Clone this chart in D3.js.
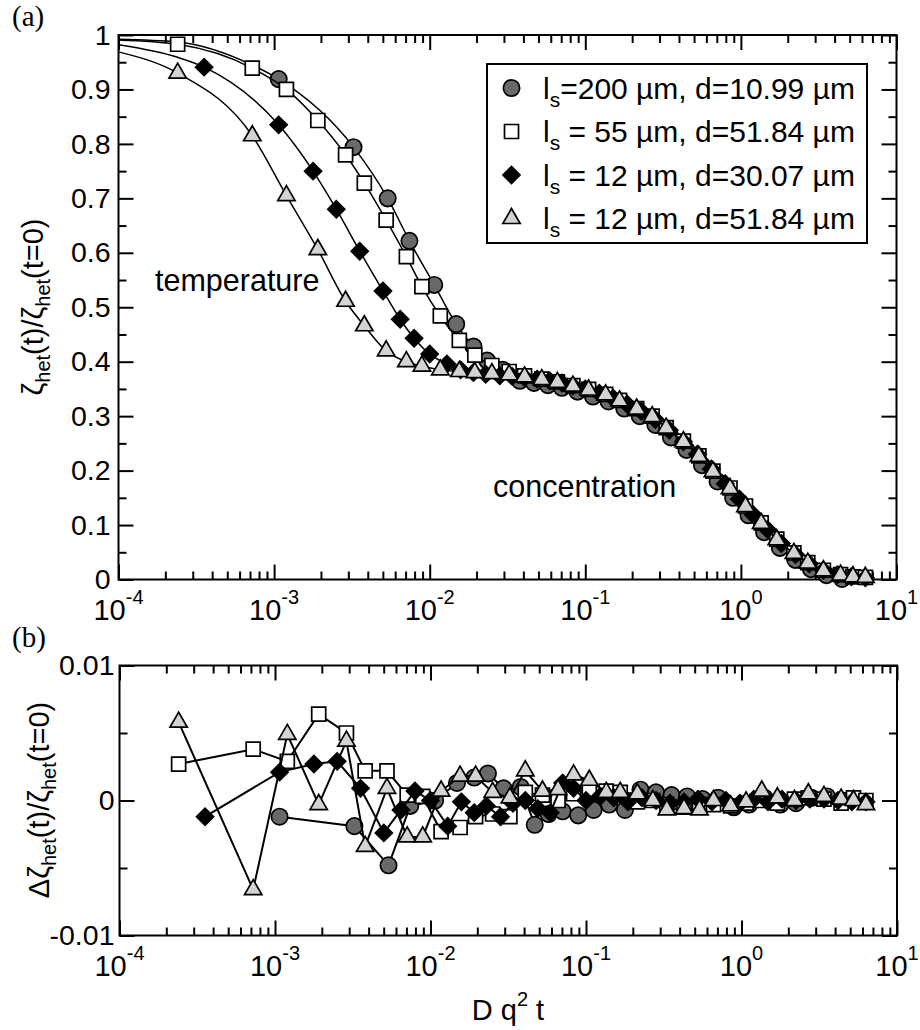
<!DOCTYPE html>
<html>
<head>
<meta charset="utf-8">
<script src="https://cdn.jsdelivr.net/npm/d3@7"></script>
<style>
  body { margin: 0; background: #fff; }
  text { white-space: pre; }
</style>
</head>
<body>
<script>
// ---- data ----

// D q^2 t for each data set (l_s=55 and l_s=12/d=51.84 share the same q)
var xD51 = [2.40e-4, 7.24e-4, 1.20e-3, 1.91e-3, 2.88e-3, 3.80e-3, 5.25e-3, 7.08e-3, 8.91e-3, 1.17e-2,
            1.55e-2, 1.95e-2, 2.51e-2, 3.24e-2, 4.07e-2, 5.25e-2, 6.61e-2, 8.32e-2, 0.105, 0.135,
            0.166, 0.214, 0.269, 0.331, 0.427, 0.537, 0.661, 0.851, 1.07, 1.35,
            1.70, 2.19, 2.69, 3.39, 4.37, 5.25, 6.31];
var xD30 = [3.55e-4, 1.07e-3, 1.78e-3, 2.51e-3, 3.55e-3, 5.01e-3, 6.46e-3, 7.94e-3, 1.00e-2, 1.29e-2,
            1.58e-2, 1.91e-2, 2.29e-2, 2.82e-2, 3.39e-2, 4.07e-2, 4.90e-2, 5.89e-2, 7.08e-2, 8.32e-2,
            0.100, 0.123, 0.151, 0.186, 0.229, 0.282, 0.347, 0.427, 0.525, 0.646,
            0.794, 0.977, 1.20, 1.48, 1.82, 2.24, 2.75, 3.39, 4.17, 5.13, 6.31];
var xD11 = [1.07e-3, 3.24e-3, 5.37e-3, 7.41e-3, 1.07e-2, 1.48e-2, 1.91e-2, 2.34e-2, 2.95e-2, 3.80e-2,
            4.68e-2, 5.75e-2, 7.08e-2, 8.91e-2, 0.112, 0.141, 0.178, 0.224, 0.282, 0.355,
            0.447, 0.562, 0.708, 0.891, 1.12, 1.41, 1.78, 2.24, 2.82, 3.55, 4.47];

// zeta_het(t)/zeta_het(t=0)
var yCircle = [0.919, 0.794, 0.700, 0.622, 0.541, 0.469, 0.428, 0.402, 0.385, 0.365,
               0.361, 0.357, 0.352, 0.345, 0.336, 0.327, 0.314, 0.300, 0.284, 0.261,
               0.238, 0.210, 0.180, 0.150, 0.118, 0.087, 0.058, 0.036, 0.019, 0.008, 0.001];
var ySquare = [0.983, 0.939, 0.900, 0.843, 0.780, 0.728, 0.660, 0.593, 0.538, 0.484,
               0.439, 0.412, 0.393, 0.382, 0.374, 0.368, 0.363, 0.356, 0.349, 0.340,
               0.329, 0.314, 0.300, 0.279, 0.254, 0.227, 0.199, 0.168, 0.135, 0.104,
               0.074, 0.049, 0.031, 0.017, 0.009, 0.005, 0.004];
var yDiamond = [0.941, 0.835, 0.750, 0.680, 0.603, 0.530, 0.478, 0.443, 0.414, 0.396,
                0.385, 0.380, 0.377, 0.374, 0.373, 0.371, 0.368, 0.365, 0.361, 0.356,
                0.350, 0.342, 0.333, 0.322, 0.309, 0.294, 0.274, 0.253, 0.230, 0.203,
                0.176, 0.148, 0.119, 0.092, 0.066, 0.046, 0.029, 0.017, 0.009, 0.005, 0.003];
var yTriangle = [0.930, 0.815, 0.705, 0.606, 0.511, 0.466, 0.420, 0.400, 0.392, 0.385,
                 0.382, 0.380, 0.378, 0.376, 0.372, 0.367, 0.362, 0.355, 0.348, 0.339,
                 0.328, 0.313, 0.299, 0.278, 0.253, 0.226, 0.198, 0.167, 0.134, 0.103,
                 0.073, 0.048, 0.030, 0.016, 0.008, 0.005, 0.004];

// fitted curves before the first data point
var leadCircleX = [1e-4, 2.4e-4, 7.2e-4],  leadCircleY = [0.992, 0.987, 0.945];
var leadSquareX = [1e-4],                  leadSquareY = [0.991];
var leadDiamondX = [1e-4, 2.4e-4],         leadDiamondY = [0.982, 0.959];
var leadTriangleX = [1e-4],                leadTriangleY = [0.969];

// residuals, panel (b)
var resCircle = [-0.0012, -0.0019, -0.0048, -0.0004, 0.0000, 0.0013, 0.0017, 0.0020, 0.0009, 0.0010,
                 -0.0018, -0.0010, -0.0008, -0.0011, -0.0007, -0.0003, -0.0007, 0.0008, 0.0006, 0.0004,
                 0.0003, 0.0001, 0.0002, -0.0005, -0.0003, 0.0002, -0.0003, -0.0002, 0.0002, 0.0003, 0.0000];
var resSquare = [0.0027, 0.0038, 0.0029, 0.0064, 0.0050, 0.0022, 0.0022, 0.0004, 0.0003, -0.0023,
                 -0.0020, -0.0012, -0.0010, -0.0012, 0.0006, 0.0004, 0.0000, 0.0005, 0.0007, 0.0007,
                 0.0006, -0.0001, 0.0000, -0.0003, -0.0005, -0.0004, -0.0003, -0.0004, -0.0002, 0.0000,
                 -0.0002, 0.0001, 0.0002, 0.0001, -0.0002, 0.0002, 0.0000];
var resDiamond = [-0.0012, 0.0021, 0.0027, 0.0029, 0.0009, -0.0024, -0.0007, 0.0007, 0.0000, -0.0019,
                  -0.0001, -0.0009, -0.0004, -0.0012, -0.0002, 0.0000, -0.0006, -0.0009, 0.0013, 0.0009,
                  0.0000, 0.0003, 0.0002, -0.0001, 0.0002, 0.0000, -0.0002, -0.0001, 0.0001, -0.0001,
                  0.0000, -0.0002, 0.0001, -0.0001, 0.0001, 0.0000, 0.0001, 0.0001, 0.0000, -0.0001, -0.0001];
var resTriangle = [0.0058, -0.0066, 0.0049, -0.0003, 0.0044, -0.0034, 0.0009, -0.0027, -0.0027, 0.0007,
                   0.0018, 0.0018, 0.0006, 0.0002, 0.0022, 0.0007, 0.0008, 0.0019, 0.0015, 0.0006,
                   0.0006, 0.0005, 0.0000, -0.0007, -0.0006, -0.0007, 0.0000, -0.0004, -0.0001, 0.0007,
                   0.0002, 0.0000, 0.0005, 0.0003, 0.0001, 0.0000, -0.0003];

var legendRest = ['=200 \u00b5m, d=10.99 \u00b5m', ' = 55 \u00b5m, d=51.84 \u00b5m',
                  ' = 12 \u00b5m, d=30.07 \u00b5m', ' = 12 \u00b5m, d=51.84 \u00b5m'];

var xDecades = [1e-4, 1e-3, 1e-2, 1e-1, 1, 10];
var yTicksTop = [0, 0.1, 0.2, 0.3, 0.4, 0.5, 0.6, 0.7, 0.8, 0.9, 1];
var yMinorTop = [0.05, 0.15, 0.25, 0.35, 0.45, 0.55, 0.65, 0.75, 0.85, 0.95];
var yTicksBot = [-0.01, 0, 0.01];
var yMinorBot = [-0.005, 0.005];

// ---- setup ----
var w = 920, h = 1030;
var font = '"Liberation Sans", Arial, Helvetica, sans-serif';

var svg = d3.select('body').append('svg')
    .attr('width', w)
    .attr('height', h)
    .style('font-family', font);

var xTop = d3.scaleLog().domain([1e-4, 10]).range([118.5, 896.5]);
var xBot = d3.scaleLog().domain([1e-4, 10]).range([119.5, 897]);
var yTop = d3.scaleLinear().domain([0, 1]).range([579.5, 35]);
var yBot = d3.scaleLinear().domain([-0.01, 0.01]).range([935.5, 665.5]);

var xMinor = [];
xDecades.slice(0, -1).forEach(function(dec) {
    for (var k = 2; k < 10; k++) xMinor.push(k * dec);
});

var numFmt = function(d) { return String(+d.toFixed(3)); };

function styleAxis(g) {
    g.select('.domain').remove();
    g.selectAll('line').attr('stroke', '#000').attr('stroke-width', 2);
    g.attr('font-family', font).attr('font-size', 28.5);
    g.selectAll('text').attr('fill', '#000');
}

function frame(xs, ys, yMajor, yMinor, labelShift) {
    var xr = xs.range(), yr = ys.range();
    // x ticks, bottom and top, pointing inward
    [[yr[0], d3.axisBottom], [yr[1], d3.axisTop]].forEach(function(p) {
        svg.append('g').attr('transform', 'translate(0,' + p[0] + ')')
            .call(p[1](xs).tickValues(xDecades).tickSize(-15).tickFormat(''))
            .call(styleAxis);
        svg.append('g').attr('transform', 'translate(0,' + p[0] + ')')
            .call(p[1](xs).tickValues(xMinor).tickSize(-8).tickFormat(''))
            .call(styleAxis);
    });
    // y ticks, left (labelled) and right
    svg.append('g').attr('transform', 'translate(' + xr[0] + ',0)')
        .call(d3.axisLeft(ys).tickValues(yMajor).tickSize(-15).tickPadding(labelShift).tickFormat(numFmt))
        .call(styleAxis);
    svg.append('g').attr('transform', 'translate(' + xr[0] + ',0)')
        .call(d3.axisLeft(ys).tickValues(yMinor).tickSize(-8).tickFormat(''))
        .call(styleAxis);
    svg.append('g').attr('transform', 'translate(' + xr[1] + ',0)')
        .call(d3.axisRight(ys).tickValues(yMajor).tickSize(-15).tickFormat(''))
        .call(styleAxis);
    svg.append('g').attr('transform', 'translate(' + xr[1] + ',0)')
        .call(d3.axisRight(ys).tickValues(yMinor).tickSize(-8).tickFormat(''))
        .call(styleAxis);

    svg.append('rect')
        .attr('x', xr[0]).attr('y', yr[1])
        .attr('width', xr[1] - xr[0]).attr('height', yr[0] - yr[1])
        .attr('fill', 'none').attr('stroke', '#000').attr('stroke-width', 2);

    // 10^n labels
    var lab = svg.append('g').selectAll('text')
        .data(xDecades)
        .enter()
        .append('text')
        .attr('x', d => xs(d))
        .attr('y', yr[0] + 40.5)
        .attr('text-anchor', 'middle')
        .attr('font-size', 29);
    lab.append('tspan').text('10');
    lab.append('tspan').attr('font-size', 20).attr('dy', -16).text(d => String(Math.round(Math.log10(d))));
}

frame(xTop, yTop, yTicksTop, yMinorTop, 8);
frame(xBot, yBot, yTicksBot, yMinorBot, 5);

// ---- markers ----
var symbols = {
    circle: d3.symbol(d3.symbolCircle, 210)(),
    square: d3.symbol(d3.symbolSquare, 196)(),
    diamond: d3.symbol(d3.symbolSquare, 145)(),
    triangle: d3.symbol(d3.symbolTriangle, 130)()
};

var series = [
    {kind: 'circle', x: xD11, y: yCircle, res: resCircle, lx: leadCircleX, ly: leadCircleY, fill: '#696969', rot: 0},
    {kind: 'square', x: xD51, y: ySquare, res: resSquare, lx: leadSquareX, ly: leadSquareY, fill: '#fff', rot: 0},
    {kind: 'diamond', x: xD30, y: yDiamond, res: resDiamond, lx: leadDiamondX, ly: leadDiamondY, fill: '#000', rot: 45},
    {kind: 'triangle', x: xD51, y: yTriangle, res: resTriangle, lx: leadTriangleX, ly: leadTriangleY, fill: '#d3d3d3', rot: 0}
];

function drawMarkers(sel, s) {
    sel.append('path')
        .attr('d', symbols[s.kind])
        .attr('fill', s.fill)
        .attr('stroke', '#000')
        .attr('stroke-width', 1.7);
}

series.forEach(function(s) {
    // panel (a): fitted curve and data
    var pts = s.x.map((v, i) => ({x: v, y: s.y[i]}));
    var lead = s.lx.map((v, i) => ({x: v, y: s.ly[i]}));
    var line = d3.line()
        .x(d => xTop(d.x))
        .y(d => yTop(d.y))
        .curve(d3.curveMonotoneX);
    svg.append('path')
        .datum(lead.concat(pts))
        .attr('d', line)
        .attr('fill', 'none')
        .attr('stroke', '#000')
        .attr('stroke-width', 1.5);
    svg.append('g').selectAll('g')
        .data(pts)
        .enter()
        .append('g')
        .attr('transform', d => 'translate(' + xTop(d.x) + ',' + yTop(d.y) + ') rotate(' + s.rot + ')')
        .each(function() { drawMarkers(d3.select(this), s); });
});

series.forEach(function(s) {
    // panel (b): residuals
    var pts = s.x.map((v, i) => ({x: v, r: s.res[i]}));
    svg.append('path')
        .datum(pts)
        .attr('d', d3.line().x(d => xBot(d.x)).y(d => yBot(d.r)))
        .attr('fill', 'none')
        .attr('stroke', '#000')
        .attr('stroke-width', 2);
    svg.append('g').selectAll('g')
        .data(pts)
        .enter()
        .append('g')
        .attr('transform', d => 'translate(' + xBot(d.x) + ',' + yBot(d.r) + ') rotate(' + s.rot + ')')
        .each(function() { drawMarkers(d3.select(this), s); });
});

// ---- legend ----
var legend = svg.append('g');
legend.append('rect')
    .attr('x', 487).attr('y', 64)
    .attr('width', 380).attr('height', 179)
    .attr('fill', '#fff').attr('stroke', '#000').attr('stroke-width', 2);

series.forEach(function(s, i) {
    var ry = 88 + i * 43.5;
    legend.append('g')
        .attr('transform', 'translate(511.5,' + ry + ') rotate(' + s.rot + ')')
        .call(drawMarkers, s);
    var t = legend.append('text')
        .attr('x', 543).attr('y', ry + 10.5)
        .attr('font-size', 30);
    t.append('tspan').text('l');
    t.append('tspan').attr('font-size', 21).attr('dy', 8).text('s');
    t.append('tspan').attr('dy', -8).text(legendRest[i]);
});

// ---- annotations & titles ----
svg.append('text').attr('x', 155).attr('y', 291).attr('font-size', 30.5).text('temperature');
svg.append('text').attr('x', 493).attr('y', 497).attr('font-size', 30.5).text('concentration');

svg.append('text').attr('x', 12).attr('y', 26)
    .attr('font-family', '"Liberation Serif", "Times New Roman", serif')
    .attr('font-size', 29).text('(a)');
svg.append('text').attr('x', 12).attr('y', 647)
    .attr('font-family', '"Liberation Serif", "Times New Roman", serif')
    .attr('font-size', 29).text('(b)');

function yTitle(cx, cy, prefix) {
    var t = svg.append('text')
        .attr('transform', 'translate(' + cx + ',' + cy + ') rotate(-90)')
        .attr('text-anchor', 'middle')
        .attr('font-size', 29);
    t.append('tspan').text(prefix + '\u03b6');
    t.append('tspan').attr('font-size', 20).attr('dy', 7).text('het');
    t.append('tspan').attr('dy', -7).text('(t)/\u03b6');
    t.append('tspan').attr('font-size', 20).attr('dy', 7).text('het');
    t.append('tspan').attr('dy', -7).text('(t=0)');
}
yTitle(43, 307, '');
yTitle(49, 800, '\u0394');

var xt = svg.append('text')
    .attr('x', 508).attr('y', 1020)
    .attr('text-anchor', 'middle')
    .attr('font-size', 29);
xt.append('tspan').text('D q');
xt.append('tspan').attr('font-size', 20).attr('dy', -14).text('2');
xt.append('tspan').attr('dy', 14).text(' t');
</script>
</body>
</html>
